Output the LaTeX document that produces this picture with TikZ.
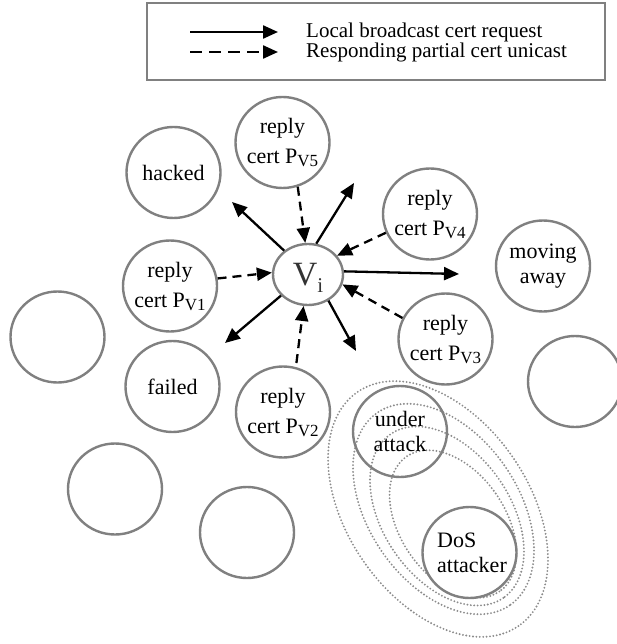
\documentclass[tikz,border=0pt]{standalone}
\usepackage{fontspec}
\setmainfont{Liberation Serif}
\usetikzlibrary{shapes.geometric,arrows.meta}
\definecolor{cgray}{RGB}{128,128,128}
\definecolor{dgray}{RGB}{140,140,140}
\newcommand{\pvsub}[1]{P\raisebox{-3pt}{\fontsize{17}{17}\selectfont V#1}}
\begin{document}
\begin{tikzpicture}[x=1pt,y=-1pt,
  circ/.style={ellipse, draw=cgray, line width=2.4pt, minimum width=94pt, minimum height=91pt, inner sep=0pt},
  txt/.style={font=\fontsize{22}{30}\selectfont, align=center, inner sep=0pt},
  txtb/.style={font=\fontsize{22}{25}\selectfont, align=center, inner sep=0pt},
  solidarr/.style={line width=2.3pt, -{Triangle[length=15pt,width=13pt]}},
  dasharr/.style={line width=2.3pt, dash pattern=on 9pt off 6pt, -{Triangle[length=15pt,width=13pt]}},
  dotell/.style={draw=dgray, line width=2.1pt, line cap=round, dash pattern=on 0pt off 3.4pt}]
\useasboundingbox (0,0) rectangle (617,644);

% legend
\node[draw=cgray, line width=2.6pt, minimum width=458pt, minimum height=77pt, inner sep=0pt] (legend) at (376,41.5) {};
\coordinate (l1a) at (190,32);
\coordinate (l1b) at (278,32);
\coordinate (l2a) at (190,52);
\coordinate (l2b) at (278,52);
\draw[solidarr] (l1a) -- (l1b);
\draw[line width=2.3pt, dash pattern=on 12pt off 7pt, -{Triangle[length=15pt,width=13pt]}] (l2a) -- (l2b);
\node[anchor=base west, font=\fontsize{21}{21}\selectfont, inner sep=0pt] (lt1) at (306,38) {Local broadcast cert request};
\node[anchor=base west, font=\fontsize{21}{21}\selectfont, inner sep=0pt] (lt2) at (306,58) {Responding partial cert unicast};

% dotted ellipses
\foreach \cx/\cy/\s in {438/509/1, 443.5/509/0.823, 447/516/0.70, 453/524/0.577}{
  \draw[dotell, rotate around={-55.5:(\cx,\cy)}] (\cx,\cy) ellipse [x radius=142*\s, y radius=91*\s];
}

% circles
\node[circ] (hacked) at (173.5,172.5) {};
\node[circ] (pv5) at (282.5,142.5) {};
\node[circ] (pv4) at (430,214) {};
\node[circ] (moving) at (543,266) {};
\node[circ] (pv1) at (170,286) {};
\node[circ] (pv3) at (445.5,339) {};
\node[circ] (failed) at (172.5,386.5) {};
\node[circ] (pv2) at (283,412) {};
\node[circ] (e1) at (57.5,337) {};
\node[circ] (e2) at (575,381.5) {};
\node[circ] (e3) at (115,489) {};
\node[circ] (e4) at (247,532.5) {};
\node[circ] (under) at (400,431.5) {};
\node[circ, fill=white] (dos) at (469.5,552.5) {};

\node[txt] (hackedt) at (hacked) {hacked};
\node[txt] (pv5t) at (pv5) {reply\\cert \pvsub{5}};
\node[txt] (pv4t) at (pv4) {reply\\cert \pvsub{4}};
\node[txtb] (movingt) at (moving) {moving\\away};
\node[txt] (pv1t) at (pv1) {reply\\cert \pvsub{1}};
\node[txt] (pv3t) at (pv3) {reply\\cert \pvsub{3}};
\node[txt] (failedt) at (failed) {failed};
\node[txt] (pv2t) at (pv2) {reply\\cert \pvsub{2}};
\node[txtb] (undert) at (under) {under\\attack};
\node[txtb, align=left] (dost) at (472,553) {DoS\\attacker};

% central node
\node[ellipse, draw=cgray, line width=2.4pt, minimum width=70pt, minimum height=61pt, inner sep=0pt] (vi) at (308,274.5) {};
\node[inner sep=0pt, text=black!80] (vit) at (308,277.5) {\fontsize{34}{34}\selectfont V\raisebox{-7pt}{\fontsize{21}{21}\selectfont i}};

% solid arrows
\coordinate (thk) at (232,202);
\coordinate (tur) at (354,183);
\coordinate (trt) at (459,274);
\coordinate (tdl) at (225,343);
\coordinate (tdr) at (356,351);
\draw[solidarr] (vi.135.6) -- (thk);
\draw[solidarr] (vi.75.3) -- (tur);
\draw[solidarr] (vi.5.7) -- (trt);
\draw[solidarr] (vi.218.8) -- (tdl);
\draw[solidarr] (vi.-52.2) -- (tdr);

% dashed arrows
\draw[dasharr] (pv5.-71.2) -- (vi.95.4);
\draw[dasharr] (pv4.-157.3) -- (vi.33.9);
\draw[dasharr] (pv1.9.7) -- (vi.177.5);
\draw[dasharr] (pv3.154.4) -- (vi.-16);
\draw[dasharr, shorten <=4pt] (pv2.74.4) -- (vi.-98.7);
\end{tikzpicture}
\end{document}
